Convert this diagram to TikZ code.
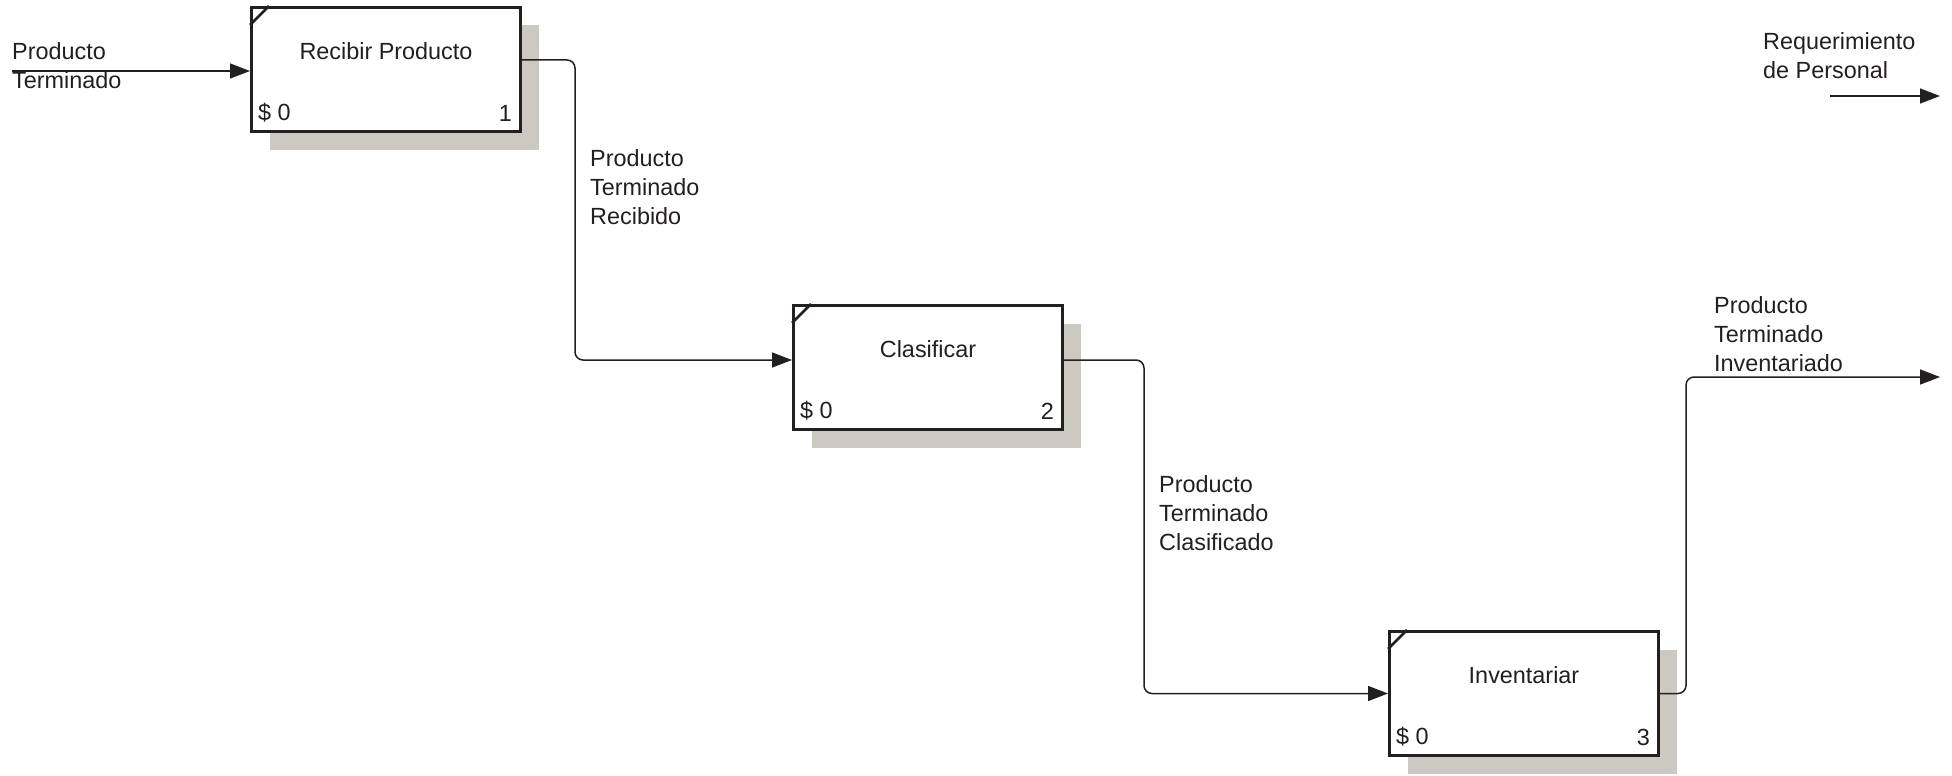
\documentclass[tikz,border=0pt]{standalone}
\usepackage{fontspec}
\setmainfont{Liberation Sans}
\usetikzlibrary{arrows.meta,calc,shadows}
\definecolor{ink}{RGB}{35,31,32}
\definecolor{shadowgray}{RGB}{204,200,194}
\begin{document}
\begin{tikzpicture}[x=1pt,y=-1pt,
  every node/.style={inner sep=0pt, text=ink},
  lbl/.style={font=\fontsize{23.4}{29}\selectfont, align=left, anchor=north west},
  txt/.style={font=\fontsize{23.4}{29}\selectfont},
  procbox/.style={draw=ink, line width=3pt, fill=white,
    minimum width=269pt, minimum height=124pt,
    general shadow={fill=shadowgray, shadow xshift=18pt, shadow yshift=-18pt}},
  tick/.style={draw=ink, line width=2.7pt},
  flow/.style={draw=ink, line width=1.5pt, rounded corners=8pt,
    -{Triangle[length=20pt,width=15pt]}},
]
\useasboundingbox (0,0) rectangle (1952,776);

% activity boxes
\node[procbox] (b1) at (386,69.5) {};
\node[procbox] (b2) at (928,367.5) {};
\node[procbox] (b3) at (1524,693.5) {};

% corner ticks
\foreach \b in {b1,b2,b3}
  \draw[tick] ($(\b.north west)+(0,19)$) -- ($(\b.north west)+(19,0)$);

% box texts
\node[txt] (t1) at ($(b1.north)+(0,45)$) {Recibir Producto};
\node[txt] (t2) at ($(b2.north)+(0,45)$) {Clasificar};
\node[txt] (t3) at ($(b3.north)+(0,45)$) {Inventariar};
\node[txt, anchor=west] (c1) at ($(b1.south west)+(8,-20)$) {\$ 0};
\node[txt, anchor=west] (c2) at ($(b2.south west)+(8,-20)$) {\$ 0};
\node[txt, anchor=west] (c3) at ($(b3.south west)+(8,-20)$) {\$ 0};
\node[txt, anchor=east] (n1) at ($(b1.south east)+(-10,-20)$) {1};
\node[txt, anchor=east] (n2) at ($(b2.south east)+(-10,-20)$) {2};
\node[txt, anchor=east] (n3) at ($(b3.south east)+(-10,-20)$) {3};

% free ends
\coordinate (inStart) at (12,71);
\coordinate (outEnd) at (1940,377);
\coordinate (reqStart) at (1830,96);
\coordinate (reqEnd) at (1940,96);

% connectors
\draw[flow] (inStart) -- (inStart -| b1.west);
\draw[flow] ([yshift=9.5pt]b1.east) -- (575,60) -- (575,360) -- ([yshift=7.5pt]b2.west);
\draw[flow] ([yshift=7.5pt]b2.east) -- (1144,360) -- (1144,693.5) -- (b3.west);
\draw[flow] (b3.east) -- (1686,693.5) -- (1686,377) -- (outEnd);
\draw[flow] (reqStart) -- (reqEnd);

% arrow labels
\node[lbl] (l0) at (12,42) {Producto\\Terminado};
\node[lbl] (l1) at (590,149) {Producto\\Terminado\\Recibido};
\node[lbl] (l2) at (1159,475) {Producto\\Terminado\\Clasificado};
\node[lbl] (l3) at (1714,296) {Producto\\Terminado\\Inventariado};
\node[lbl] (l4) at (1763,32) {Requerimiento\\de Personal};
\end{tikzpicture}
\end{document}
